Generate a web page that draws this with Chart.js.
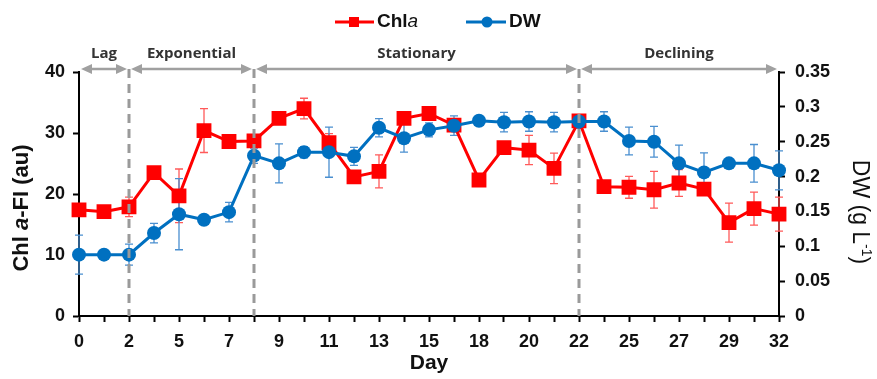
<!DOCTYPE html>
<html>
<head>
<meta charset="utf-8">
<script src="https://cdn.jsdelivr.net/npm/chart.js@4.4.1/dist/chart.umd.min.js"></script>
<style>
    html, body { margin: 0; padding: 0; background: #fff; }
    #wrap { width: 877px; height: 379px; }
</style>
</head>
<body>
<div id="wrap"><canvas id="growthChart" width="877" height="379"></canvas></div>
<script>
// Culture days (category axis, every other label shown)
const days = ['0', '1', '2', '3', '5', '6', '7', '8', '9', '10', '11', '12', '13', '14', '15',
    '16', '18', '19', '20', '21', '22', '23', '25', '26', '27', '28', '29', '30', '32'];

// Chl a fluorescence (au), left axis
const chlA = [17.4, 17.1, 17.9, 23.5, 19.7, 30.4, 28.6, 28.7, 32.4, 34.0, 28.4, 22.8, 23.7, 32.4, 33.2,
    31.3, 22.3, 27.6, 27.2, 24.2, 32.0, 21.2, 21.1, 20.7, 21.8, 20.8, 15.3, 17.6, 16.7];
const chlAErr = [0.8, 0.5, 1.6, 0.6, 4.4, 3.6, 0.9, 0.7, 0.6, 1.7, 1.5, 0.8, 2.7, 0.7, 1.0,
    0.8, 0.6, 0.8, 2.4, 2.5, 0.8, 0.8, 1.8, 3.0, 2.2, 1.0, 3.2, 2.7, 2.8];

// Dry weight (g L-1), right axis
const dw = [0.088, 0.088, 0.088, 0.119, 0.146, 0.138, 0.149, 0.230, 0.219, 0.235, 0.235, 0.229, 0.270, 0.255, 0.267,
    0.273, 0.280, 0.278, 0.279, 0.278, 0.279, 0.279, 0.251, 0.250, 0.219, 0.206, 0.219, 0.219, 0.209];
const dwErr = [0.028, 0.004, 0.015, 0.014, 0.051, 0.004, 0.014, 0.011, 0.028, 0.008, 0.036, 0.013, 0.013, 0.020, 0.010,
    0.014, 0.005, 0.014, 0.014, 0.014, 0.010, 0.014, 0.020, 0.022, 0.026, 0.028, 0.005, 0.027, 0.028];

// Growth phases and their boundary days
const phaseNames = ['Lag', 'Exponential', 'Stationary', 'Declining'];
const phaseBounds = ['0', '2', '8', '22', '32'];

const FONT = '"Liberation Sans", Arial, sans-serif';
const RED = '#ff0000';
const BLUE = '#0070c0';

// draw a run of text pieces with different fonts, centred on x
function drawParts(ctx, parts, x, y) {
    let total = 0;
    parts.forEach(p => {
        ctx.font = p.font;
        p.w = ctx.measureText(p.text).width;
        total += p.w;
    });
    let cx = x - total / 2;
    parts.forEach(p => {
        ctx.font = p.font;
        ctx.fillText(p.text, cx, y + (p.dy || 0));
        cx += p.w;
    });
}

/**
 * Error bars (symmetric, +/- value), drawn under the markers
 */
const errorBars = {
    id: 'errorBars',
    beforeDatasetsDraw(chart) {
        const ctx = chart.ctx;
        chart.data.datasets.forEach((ds, i) => {
            const meta = chart.getDatasetMeta(i);
            const yScale = chart.scales[ds.yAxisID];
            ctx.save();
            ctx.strokeStyle = ds.errorColor;
            ctx.lineWidth = 1.3;
            meta.data.forEach((pt, j) => {
                const e = ds.errors[j];
                const top = yScale.getPixelForValue(ds.data[j] + e);
                const bot = yScale.getPixelForValue(ds.data[j] - e);
                ctx.beginPath();
                ctx.moveTo(pt.x, top); ctx.lineTo(pt.x, bot);
                ctx.moveTo(pt.x - 4, top); ctx.lineTo(pt.x + 4, top);
                ctx.moveTo(pt.x - 4, bot); ctx.lineTo(pt.x + 4, bot);
                ctx.stroke();
            });
            ctx.restore();
        });
    }
};

/**
 * Phase markers, legend and axis titles
 */
const decorations = {
    id: 'decorations',
    afterDraw(chart) {
        const ctx = chart.ctx;
        const x = chart.scales.x;
        const area = chart.chartArea;
        const arrowY = 69;

        ctx.save();
        // dashed boundaries
        ctx.strokeStyle = '#9a9a9a';
        ctx.lineWidth = 3;
        ctx.setLineDash([9, 6]);
        phaseBounds.slice(1, -1).forEach(d => {
            const px = x.getPixelForValue(days.indexOf(d));
            ctx.beginPath();
            ctx.moveTo(px, arrowY);
            ctx.lineTo(px, area.bottom);
            ctx.stroke();
        });
        ctx.setLineDash([]);

        // double arrows + labels
        ctx.fillStyle = '#a0a0a0';
        ctx.strokeStyle = '#a0a0a0';
        ctx.lineWidth = 2.5;
        for (let i = 0; i < phaseNames.length; i++) {
            const x1 = x.getPixelForValue(days.indexOf(phaseBounds[i])) + 2;
            const x2 = x.getPixelForValue(days.indexOf(phaseBounds[i + 1])) - 2;
            ctx.beginPath();
            ctx.moveTo(x1 + 6, arrowY);
            ctx.lineTo(x2 - 6, arrowY);
            ctx.stroke();
            ctx.beginPath();
            ctx.moveTo(x1, arrowY); ctx.lineTo(x1 + 11, arrowY - 5); ctx.lineTo(x1 + 11, arrowY + 5);
            ctx.closePath();
            ctx.moveTo(x2, arrowY); ctx.lineTo(x2 - 11, arrowY - 5); ctx.lineTo(x2 - 11, arrowY + 5);
            ctx.closePath();
            ctx.fill();

            ctx.save();
            ctx.fillStyle = '#333';
            ctx.font = 'bold 15px "Open Sans", sans-serif';
            ctx.textAlign = 'center';
            ctx.textBaseline = 'middle';
            ctx.fillText(phaseNames[i], (x1 + x2) / 2, 54);
            ctx.restore();
        }

        // legend
        const ly = 22;
        ctx.lineWidth = 3;
        ctx.strokeStyle = RED;
        ctx.fillStyle = RED;
        ctx.beginPath(); ctx.moveTo(335, ly); ctx.lineTo(374, ly); ctx.stroke();
        ctx.fillRect(349, ly - 5, 10, 10);
        ctx.strokeStyle = BLUE;
        ctx.fillStyle = BLUE;
        ctx.beginPath(); ctx.moveTo(466, ly); ctx.lineTo(506, ly); ctx.stroke();
        ctx.beginPath(); ctx.arc(487, ly, 5.5, 0, Math.PI * 2); ctx.fill();

        ctx.fillStyle = '#111';
        ctx.textBaseline = 'middle';
        ctx.textAlign = 'left';
        ctx.font = 'bold 19px ' + FONT;
        ctx.fillText('Chl', 377, ly);
        const w = ctx.measureText('Chl').width;
        ctx.font = 'italic 19px ' + FONT;
        ctx.fillText('a', 377 + w, ly);
        ctx.font = 'bold 19px ' + FONT;
        ctx.fillText('DW', 509, ly);

        // left axis title
        ctx.save();
        ctx.translate(22, 208);
        ctx.rotate(-Math.PI / 2);
        drawParts(ctx, [
            { text: 'Chl ', font: 'bold 22px ' + FONT },
            { text: 'a', font: 'bold italic 22px ' + FONT },
            { text: '-FI (au)', font: 'bold 22px ' + FONT }
        ], 0, 0);
        ctx.restore();

        // right axis title
        ctx.save();
        ctx.translate(859, 212);
        ctx.rotate(Math.PI / 2);
        drawParts(ctx, [
            { text: 'DW (g L', font: '23px ' + FONT },
            { text: '-1', font: '14px ' + FONT, dy: -7 },
            { text: ')', font: '23px ' + FONT }
        ], 0, 0);
        ctx.restore();

        ctx.restore();
    }
};

function fixSize(size, vertical) {
    return function (scale) {
        if (vertical) scale.width = size; else scale.height = size;
        scale.paddingTop = 0;
        scale.paddingBottom = 0;
        scale.paddingLeft = 0;
        scale.paddingRight = 0;
    };
}

const tickFont = { family: FONT, size: 18, weight: 'bold' };

const ctx = document.getElementById('growthChart').getContext('2d');
new Chart(ctx, {
    type: 'line',
    data: {
        labels: days,
        datasets: [
            {
                label: 'Chla',
                data: chlA,
                errors: chlAErr,
                errorColor: '#ff5a5a',
                yAxisID: 'y',
                borderColor: RED,
                backgroundColor: RED,
                borderWidth: 3,
                pointStyle: 'rect',
                pointRadius: 10.5,
                pointBorderWidth: 0,
                tension: 0,
                order: 1
            },
            {
                label: 'DW',
                data: dw,
                errors: dwErr,
                errorColor: '#4a8fd0',
                yAxisID: 'y1',
                borderColor: BLUE,
                backgroundColor: BLUE,
                borderWidth: 3,
                pointStyle: 'circle',
                pointRadius: 7,
                pointBorderWidth: 0,
                tension: 0,
                order: 0
            }
        ]
    },
    options: {
        responsive: false,
        devicePixelRatio: 1,
        animation: false,
        layout: { padding: { top: 72, left: 0, right: 0, bottom: 0 } },
        plugins: {
            legend: { display: false },
            tooltip: { enabled: false }
        },
        scales: {
            x: {
                type: 'category',
                offset: false,
                afterFit: fixSize(63, false),
                border: { color: '#000', width: 2 },
                grid: {
                    offset: false,
                    drawOnChartArea: false,
                    drawTicks: true,
                    tickLength: 6,
                    tickColor: '#000',
                    tickWidth: 2
                },
                ticks: {
                    autoSkip: false,
                    maxRotation: 0,
                    padding: 9,
                    color: '#111',
                    font: tickFont,
                    callback: function (value, index) {
                        return index % 2 === 0 ? this.getLabelForValue(value) : '';
                    }
                },
                title: {
                    display: true,
                    text: 'Day',
                    color: '#111',
                    padding: { top: 0, bottom: 3 },
                    font: { family: FONT, size: 21, weight: 'bold' }
                }
            },
            y: {
                position: 'left',
                min: 0,
                max: 40,
                afterFit: fixSize(79, true),
                border: { color: '#000', width: 2 },
                grid: {
                    drawOnChartArea: false,
                    tickLength: 6,
                    tickColor: '#000',
                    tickWidth: 2
                },
                ticks: {
                    stepSize: 10,
                    padding: 8,
                    color: '#111',
                    font: tickFont
                }
            },
            y1: {
                position: 'right',
                min: 0,
                max: 0.35,
                afterFit: fixSize(98, true),
                border: { color: '#000', width: 2 },
                grid: {
                    drawOnChartArea: false,
                    tickLength: 6,
                    tickColor: '#000',
                    tickWidth: 2
                },
                ticks: {
                    stepSize: 0.05,
                    padding: 10,
                    color: '#111',
                    font: tickFont,
                    callback: value => Number(value.toFixed(2)).toString()
                }
            }
        }
    },
    plugins: [errorBars, decorations]
});
</script>
</body>
</html>
